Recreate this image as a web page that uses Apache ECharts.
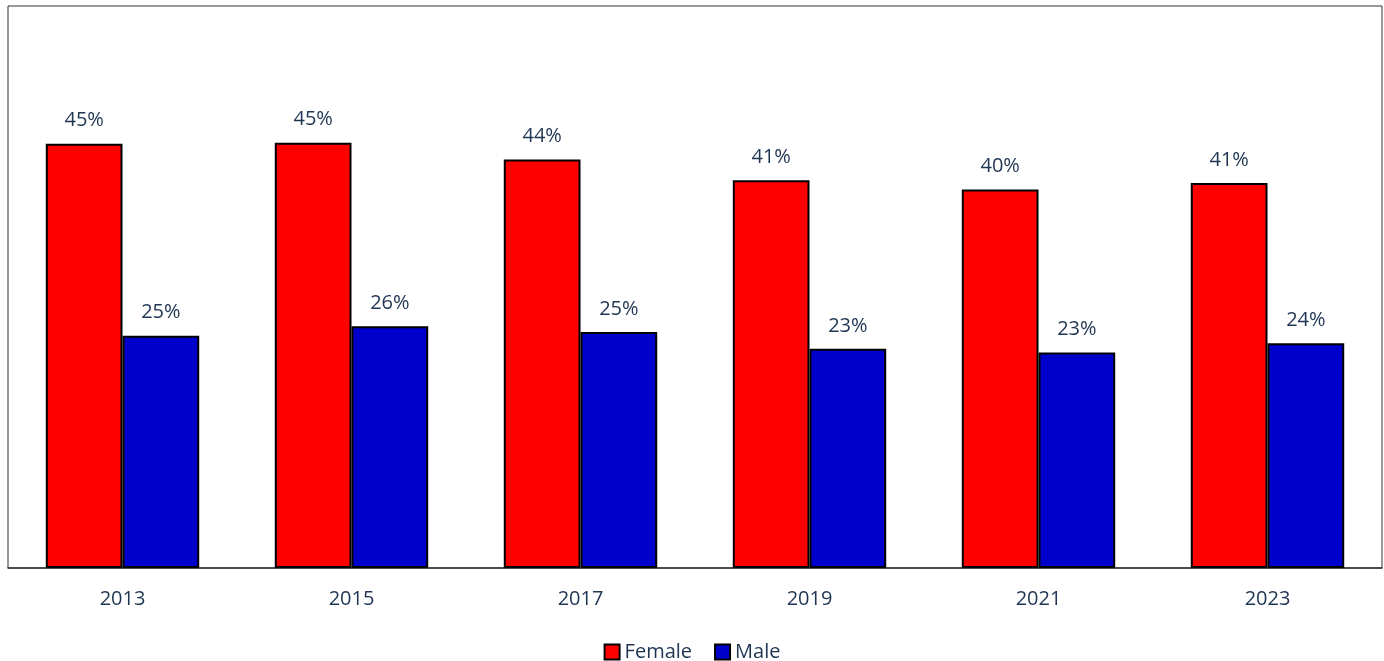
<!DOCTYPE html>
<html>
<head>
<meta charset="utf-8">
<script src="https://cdn.jsdelivr.net/npm/echarts@6/dist/echarts.min.js"></script>
<style>
  html, body { margin: 0; padding: 0; background: #fff; }
  #main { width: 1384px; height: 661px; }
</style>
</head>
<body>
<div id="main"></div>
<script>
// data
var years = ['2013', '2015', '2017', '2019', '2021', '2023'];
var female = [45.3, 45.4, 43.6, 41.4, 40.4, 41.1];
var male = [24.8, 25.8, 25.2, 23.4, 23.0, 24.0];

var textColor = '#1f3552';
var fontName = 'Open Sans';

function pct(p) {
    return Math.round(p.value) + '%';
}

var chart = echarts.init(document.getElementById('main'));

chart.setOption({
    animation: false,
    backgroundColor: '#fff',
    grid: {
        left: 8, right: 2, top: 6, bottom: 93,
        show: true,
        borderColor: '#333',
        borderWidth: 1
    },
    legend: {
        bottom: -6,
        left: 'center',
        icon: 'rect',
        itemWidth: 15,
        itemHeight: 15,
        itemGap: 22,
        textStyle: { color: textColor, fontSize: 20, fontFamily: fontName },
        data: ['Female', 'Male']
    },
    xAxis: {
        type: 'category',
        data: years,
        axisLine: { lineStyle: { color: '#333', width: 1.5 } },
        axisTick: { show: false },
        axisLabel: { color: textColor, fontSize: 20, fontFamily: fontName, margin: 21 }
    },
    yAxis: {
        type: 'value',
        min: 0,
        max: 60,
        show: false,
        splitLine: { show: false }
    },
    series: [
        {
            name: 'Female',
            type: 'bar',
            data: female,
            barGap: '0%',
            barCategoryGap: '33%',
            itemStyle: { color: '#ff0000', borderColor: '#000', borderWidth: 2 },
            label: {
                show: true, position: 'top', distance: 13,
                formatter: pct,
                color: textColor, fontSize: 20, fontFamily: fontName
            }
        },
        {
            name: 'Male',
            type: 'bar',
            data: male,
            itemStyle: { color: '#0000cc', borderColor: '#000', borderWidth: 2 },
            label: {
                show: true, position: 'top', distance: 13,
                formatter: pct,
                color: textColor, fontSize: 20, fontFamily: fontName
            }
        }
    ]
});
</script>
</body>
</html>
